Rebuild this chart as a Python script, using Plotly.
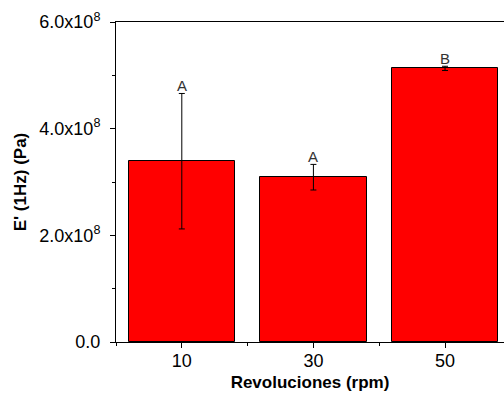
import plotly.graph_objects as go

categories = [10, 30, 50]
values = [3.39e8, 3.09e8, 5.13e8]
errors = [1.27e8, 0.24e8, 0.04e8]
letters = ["A", "A", "B"]
y_tickvals = [0, 2e8, 4e8, 6e8]
y_ticktext = ["0.0", "2.0x10<sup>8</sup>", "4.0x10<sup>8</sup>", "6.0x10<sup>8</sup>"]
y_minor = [1e8, 3e8, 5e8]
x_minor = [0, 20, 40]

font = "Liberation Sans, Arial, sans-serif"

fig = go.Figure()
fig.add_trace(go.Bar(
    x=categories, y=values, width=16.2,
    marker=dict(color="#ff0000", line=dict(color="black", width=1)),
    error_y=dict(type="data", array=errors, color="black", thickness=1, width=3),
))

for c, v, e, t in zip(categories, values, errors, letters):
    fig.add_annotation(x=c, y=v + e, text=t, showarrow=False, yanchor="bottom",
                       yshift=-3, font=dict(family=font, size=15, color="#333333"))

fig.update_layout(
    width=504, height=399,
    margin=dict(l=116, r=0, t=22, b=57),
    paper_bgcolor="white", plot_bgcolor="white",
    showlegend=False,
    font=dict(family=font, size=18, color="black"),
    bargap=0,
)
fig.update_xaxes(
    range=[0, 58.96], tickmode="array", tickvals=categories,
    ticktext=[str(c) for c in categories],
    ticks="outside", ticklen=5, tickwidth=1, tickcolor="black",
    showline=True, linecolor="black", linewidth=1, mirror=True,
    showgrid=False, zeroline=False,
    tickfont=dict(size=18), ticklabelstandoff=-3,
    minor=dict(tickmode="array", tickvals=x_minor, ticks="outside", ticklen=3, tickcolor="black"),
    title=dict(text="<b>Revoluciones (rpm)</b>", font=dict(size=17), standoff=6),
)
fig.update_yaxes(
    range=[0, 6e8], tickmode="array", tickvals=y_tickvals, ticktext=y_ticktext,
    ticks="outside", ticklen=5, tickwidth=1, tickcolor="black",
    showline=True, linecolor="black", linewidth=1, mirror=True,
    showgrid=False, zeroline=False,
    tickfont=dict(size=18), ticklabelstandoff=6,
    minor=dict(tickmode="array", tickvals=y_minor, ticks="outside", ticklen=3, tickcolor="black"),
    title=dict(text="<b>E' (1Hz) (Pa)</b>", font=dict(size=17), standoff=8),
)

fig.write_html("out.html")
